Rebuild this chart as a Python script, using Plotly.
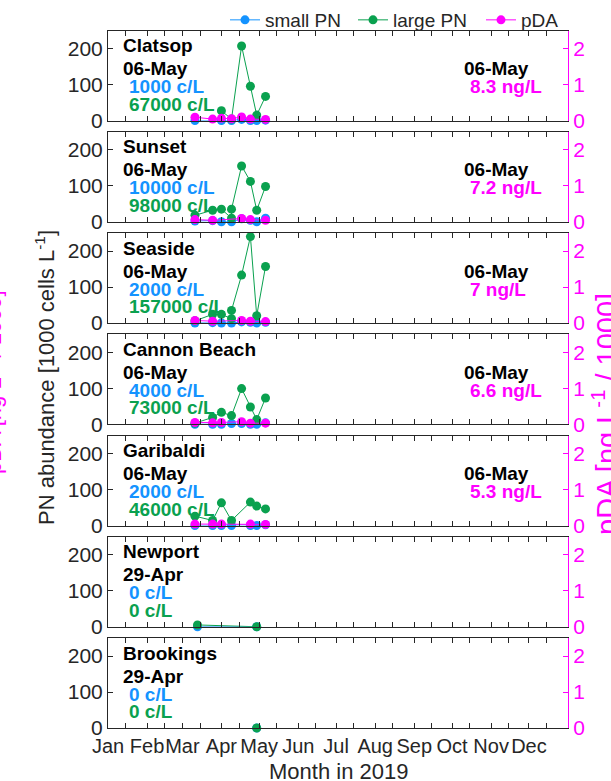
import plotly.graph_objects as go

# ---------------- data ----------------
stations = ["Clatsop", "Sunset", "Seaside", "Cannon Beach", "Garibaldi", "Newport", "Brookings"]

clatsop_small_dates = ["2019-03-11", "2019-04-01", "2019-04-09", "2019-04-17", "2019-04-24", "2019-04-29", "2019-05-06"]
clatsop_small = [0, 0, 0, 3, 0, 0, 1]
clatsop_large_dates = ["2019-04-01", "2019-04-09", "2019-04-17", "2019-04-24", "2019-04-29", "2019-05-06"]
clatsop_large = [27, 4, 207, 95, 15, 67]
clatsop_pda_dates = ["2019-03-11", "2019-03-25", "2019-04-01", "2019-04-09", "2019-04-17", "2019-04-24", "2019-05-06"]
clatsop_pda = [0.09, 0.04, 0.06, 0.05, 0.10, 0.04, 0.03]

sunset_small_dates = ["2019-03-11", "2019-03-25", "2019-04-01", "2019-04-09", "2019-04-17", "2019-04-24", "2019-04-29", "2019-05-06"]
sunset_small = [2, 3, 0, 0, 8, 4, 0, 10]
sunset_large_dates = ["2019-03-11", "2019-03-25", "2019-04-01", "2019-04-09", "2019-04-09", "2019-04-17", "2019-04-24", "2019-04-29", "2019-05-06"]
sunset_large = [18, 32, 35, 10, 35, 155, 112, 32, 98]
sunset_pda_dates = ["2019-03-11", "2019-03-25", "2019-04-17", "2019-04-24", "2019-05-06"]
sunset_pda = [0.06, 0.04, 0.09, 0.06, 0.04]

seaside_small_dates = ["2019-03-11", "2019-03-25", "2019-04-01", "2019-04-09", "2019-04-17", "2019-04-24", "2019-04-29", "2019-05-06"]
seaside_small = [0, 1, 0, 0, 3, 2, 0, 2]
seaside_large_dates = ["2019-03-11", "2019-03-25", "2019-04-01", "2019-04-09", "2019-04-09", "2019-04-17", "2019-04-24", "2019-04-29", "2019-05-06"]
seaside_large = [6, 24, 24, 12, 35, 133, 240, 20, 157]
seaside_pda_dates = ["2019-03-11", "2019-03-25", "2019-04-17", "2019-04-24", "2019-05-06"]
seaside_pda = [0.07, 0.05, 0.07, 0.05, 0.04]

cannon_small_dates = ["2019-03-11", "2019-03-25", "2019-04-01", "2019-04-09", "2019-04-17", "2019-04-24", "2019-04-29", "2019-05-06"]
cannon_small = [0, 0, 0, 2, 2, 0, 0, 4]
cannon_large_dates = ["2019-03-11", "2019-03-25", "2019-04-01", "2019-04-09", "2019-04-17", "2019-04-24", "2019-04-29", "2019-05-06"]
cannon_large = [3, 19, 33, 24, 99, 48, 13, 73]
cannon_pda_dates = ["2019-03-11", "2019-03-25", "2019-04-01", "2019-04-17", "2019-04-24", "2019-05-06"]
cannon_pda = [0.05, 0.04, 0.05, 0.07, 0.03, 0.03]

garibaldi_small_dates = ["2019-03-11", "2019-03-25", "2019-04-01", "2019-04-09", "2019-04-24", "2019-04-29", "2019-05-06"]
garibaldi_small = [0, 0, 0, 0, 0, 0, 2]
garibaldi_large_dates = ["2019-03-11", "2019-03-25", "2019-04-01", "2019-04-09", "2019-04-24", "2019-04-29", "2019-05-06"]
garibaldi_large = [26, 14, 63, 14, 65, 54, 46]
garibaldi_pda_dates = ["2019-03-11", "2019-03-25", "2019-04-01", "2019-04-24", "2019-05-06"]
garibaldi_pda = [0.04, 0.04, 0.04, 0.04, 0.03]

newport_small_dates = ["2019-03-13", "2019-04-29"]
newport_small = [0, 0]
newport_large_dates = ["2019-03-13", "2019-04-29"]
newport_large = [5, 0]
newport_pda_dates = []
newport_pda = []

brookings_small_dates = ["2019-04-29"]
brookings_small = [0]
brookings_large_dates = ["2019-04-29"]
brookings_large = [0]
brookings_pda_dates = []
brookings_pda = []

latest_dates = ["06-May", "06-May", "06-May", "06-May", "06-May", "29-Apr", "29-Apr"]
latest_small_text = ["1000 c/L", "10000 c/L", "2000 c/L", "4000 c/L", "2000 c/L", "0 c/L", "0 c/L"]
latest_large_text = ["67000 c/L", "98000 c/L", "157000 c/L", "73000 c/L", "46000 c/L", "0 c/L", "0 c/L"]
pda_dates_text = ["06-May", "06-May", "06-May", "06-May", "06-May", None, None]
pda_text = ["8.3 ng/L", "7.2 ng/L", "7 ng/L", "6.6 ng/L", "5.3 ng/L", None, None]

month_labels = ["Jan", "Feb", "Mar", "Apr", "May", "Jun", "Jul", "Aug", "Sep", "Oct", "Nov", "Dec"]

series = [
    (clatsop_small_dates, clatsop_small, clatsop_large_dates, clatsop_large, clatsop_pda_dates, clatsop_pda),
    (sunset_small_dates, sunset_small, sunset_large_dates, sunset_large, sunset_pda_dates, sunset_pda),
    (seaside_small_dates, seaside_small, seaside_large_dates, seaside_large, seaside_pda_dates, seaside_pda),
    (cannon_small_dates, cannon_small, cannon_large_dates, cannon_large, cannon_pda_dates, cannon_pda),
    (garibaldi_small_dates, garibaldi_small, garibaldi_large_dates, garibaldi_large, garibaldi_pda_dates, garibaldi_pda),
    (newport_small_dates, newport_small, newport_large_dates, newport_large, newport_pda_dates, newport_pda),
    (brookings_small_dates, brookings_small, brookings_large_dates, brookings_large, brookings_pda_dates, brookings_pda),
]

# ---------------- styling ----------------
W, H = 611, 781
ML, MR, MT, MB = 108, 43, 30, 53
PW, PH = W - ML - MR, H - MT - MB
BLUE = "#1493FF"
GREEN = "#0AA14F"
MAG = "#FF00FF"
AX = "#262626"
FONT = "Liberation Sans, Arial, sans-serif"

zero_px = [120.5 + 101.25 * i for i in range(7)]
box_h = 90

def py(px):
    return (H - MB - px) / PH

def pxx(px):
    return (px - ML) / PW

tickvals, ticktext = [], []
for m in range(1, 13):
    tickvals.append(f"2019-{m:02d}-01")
    ticktext.append(month_labels[m - 1])

fig = go.Figure()
layout = dict(
    width=W, height=H,
    margin=dict(l=ML, r=MR, t=MT, b=MB, autoexpand=False),
    paper_bgcolor="white", plot_bgcolor="white",
    font=dict(family=FONT, size=20, color=AX),
    showlegend=True,
    legend=dict(orientation="h", x=pxx(225), xanchor="left", y=py(20), yanchor="middle",
                entrywidth=83, entrywidthmode="pixels",
                font=dict(size=19, color=AX), bgcolor="rgba(0,0,0,0)", traceorder="normal"),
)
annotations = []

for i in range(7):
    xs = "x" if i == 0 else f"x{i+1}"
    y1 = f"y{2*i+1}" if i > 0 else "y"
    y2 = f"y{2*i+2}"
    sd, sv, ld, lv, pd_, pv = series[i]
    show = i == 0
    fig.add_trace(go.Scatter(x=sd, y=sv, mode="lines+markers", name="small PN",
                             line=dict(color=BLUE, width=1), marker=dict(size=9, color=BLUE),
                             xaxis=xs, yaxis=y1, showlegend=show, cliponaxis=False))
    fig.add_trace(go.Scatter(x=ld, y=lv, mode="lines+markers", name="large PN",
                             line=dict(color=GREEN, width=1), marker=dict(size=9, color=GREEN),
                             xaxis=xs, yaxis=y1, showlegend=show, cliponaxis=False))
    fig.add_trace(go.Scatter(x=pd_ if pd_ else [None], y=pv if pv else [None], mode="lines+markers", name="pDA",
                             line=dict(color=MAG, width=1), marker=dict(size=9, color=MAG),
                             xaxis=xs, yaxis=y2, showlegend=show, cliponaxis=False))

    bottom = zero_px[i]
    top = bottom - box_h
    xk = "xaxis" if i == 0 else f"xaxis{i+1}"
    yk1 = "yaxis" if i == 0 else f"yaxis{2*i+1}"
    yk2 = f"yaxis{2*i+2}"
    layout[xk] = dict(domain=[0, 1], anchor=y1, type="date",
                      range=["2019-01-01", "2020-01-01"],
                      tickmode="array", tickvals=tickvals, ticktext=ticktext, tickangle=0,
                      showticklabels=(i == 6), ticks="inside", ticklen=5, tickwidth=1,
                      tickcolor=AX, showline=True, linecolor=AX, linewidth=1, mirror="ticks",
                      minor=dict(ticks="inside", ticklen=5, tickcolor=AX, tick0="2019-01-15", dtick="M1",
                                 showgrid=False),
                      showgrid=False, zeroline=False, automargin=False,
                      tickfont=dict(size=20, color=AX))
    layout[yk1] = dict(domain=[py(bottom), py(top)], anchor=xs, range=[0, 250],
                       tickmode="array", tickvals=[0, 100, 200], ticks="inside", ticklen=5,
                       tickcolor=AX, showline=True, linecolor=AX, linewidth=1, automargin=False,
                       showgrid=False, zeroline=False, tickfont=dict(size=21, color=AX))
    layout[yk2] = dict(overlaying=y1, side="right", anchor=xs, range=[0, 2.5],
                       tickmode="array", tickvals=[0, 1, 2], ticks="inside", ticklen=5,
                       tickcolor=MAG, showline=True, linecolor=MAG, linewidth=1, automargin=False,
                       showgrid=False, zeroline=False, tickfont=dict(size=21, color=MAG))

    def ann(text, xpx, ypx, color, bold=True):
        annotations.append(dict(text=f"<b>{text}</b>" if bold else text, x=pxx(xpx), y=py(ypx),
                                xref="paper", yref="paper", xanchor="left", yanchor="middle",
                                showarrow=False, font=dict(size=19, color=color, family=FONT)))
    ann(stations[i], 121, top + 15, "black")
    ann(latest_dates[i], 121, top + 38, "black")
    ann(latest_small_text[i], 127, top + 56, BLUE)
    ann(latest_large_text[i], 127, top + 73.5, GREEN)
    if pda_text[i]:
        ann(pda_dates_text[i], 462, top + 38, "black")
        ann(pda_text[i], 468, top + 56, MAG)

# axis titles
annotations.append(dict(text="Month in 2019", x=0.5, y=py(771), xref="paper", yref="paper",
                        xanchor="center", yanchor="middle", showarrow=False, font=dict(size=22, color=AX)))
annotations.append(dict(text="PN abundance [1000 cells L<sup>-1</sup>]", x=pxx(45), y=py(378),
                        xref="paper", yref="paper", xanchor="center", yanchor="middle",
                        textangle=-90, showarrow=False, font=dict(size=22, color=AX)))
annotations.append(dict(text="pDA [ng L<sup>-1</sup> / 1000]", x=pxx(605), y=py(414),
                        xref="paper", yref="paper", xanchor="center", yanchor="middle",
                        textangle=-90, showarrow=False, font=dict(size=29, color=MAG)))
annotations.append(dict(text="pDA [ng L<sup>-1</sup> / 1000]", x=pxx(-8), y=py(382),
                        xref="paper", yref="paper", xanchor="center", yanchor="middle",
                        textangle=-90, showarrow=False, font=dict(size=22, color=MAG)))

layout["annotations"] = annotations
fig.update_layout(**layout)
fig.write_html("out.html", config={"displayModeBar": False},
               post_script="document.body.style.margin='0px';document.body.style.overflow='hidden';")
